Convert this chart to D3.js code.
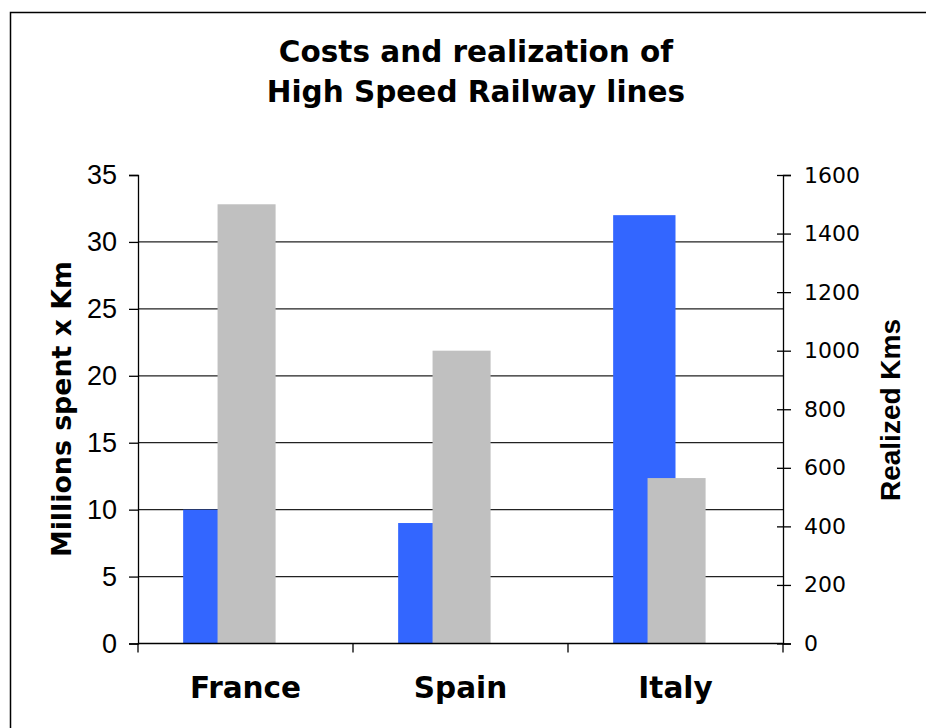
<!DOCTYPE html>
<html>
<head>
<meta charset="utf-8">
<script src="https://cdn.jsdelivr.net/npm/d3@7"></script>
<style>
  body { margin: 0; background: #fff; }
  text { font-family: "DejaVu Sans", Verdana, sans-serif; }
</style>
</head>
<body>
<div id="chart"></div>
<script>
var width = 926;
var height = 728;

// data
var countries = ["France", "Spain", "Italy"];
var millionsPerKm = [10, 9, 32];
var realizedKms = [1500, 1000, 565];
var leftTicks = [0, 5, 10, 15, 20, 25, 30, 35];
var rightTicks = [0, 200, 400, 600, 800, 1000, 1200, 1400, 1600];

var plot = { left: 138, right: 783, top: 175, bottom: 643.5 };

var svg = d3.select("#chart")
  .append("svg")
  .attr("width", width)
  .attr("height", height);

// outer frame
svg.append("rect")
  .attr("x", 10.5).attr("y", 12.5)
  .attr("width", 930).attr("height", 730)
  .attr("fill", "#fff")
  .attr("stroke", "#000")
  .attr("stroke-width", 1.5);

var x = d3.scaleBand()
  .domain(countries)
  .range([plot.left, plot.right]);

var yLeft = d3.scaleLinear()
  .domain([0, 35])
  .range([plot.bottom, plot.top]);

var yRight = d3.scaleLinear()
  .domain([0, 1600])
  .range([plot.bottom, plot.top]);

// gridlines (none at top)
svg.append("g")
  .selectAll("line")
  .data(leftTicks.filter(function(d) { return d > 0 && d < 35; }))
  .enter()
  .append("line")
  .attr("x1", plot.left).attr("x2", plot.right)
  .attr("y1", function(d) { return yLeft(d); })
  .attr("y2", function(d) { return yLeft(d); })
  .attr("stroke", "#222")
  .attr("stroke-width", 1.2);

var bw = x.bandwidth();

// blue bars: from band start + 21% up to band centre
svg.append("g")
  .selectAll("rect")
  .data(countries)
  .enter()
  .append("rect")
  .attr("x", function(d) { return x(d) + bw * 0.21; })
  .attr("width", bw * 0.29)
  .attr("y", function(d, i) { return yLeft(millionsPerKm[i]); })
  .attr("height", function(d, i) { return plot.bottom - yLeft(millionsPerKm[i]); })
  .attr("fill", "#3366ff");

// grey bars on the secondary axis, drawn over the blue ones
svg.append("g")
  .selectAll("rect")
  .data(countries)
  .enter()
  .append("rect")
  .attr("x", function(d) { return x(d) + bw * 0.37; })
  .attr("width", bw * 0.27)
  .attr("y", function(d, i) { return yRight(realizedKms[i]); })
  .attr("height", function(d, i) { return plot.bottom - yRight(realizedKms[i]); })
  .attr("fill", "#c0c0c0");

// left axis
var leftAxis = svg.append("g")
  .attr("transform", "translate(" + plot.left + ",0)")
  .call(d3.axisLeft(yLeft).tickValues(leftTicks).tickSize(9).tickPadding(12));
leftAxis.select(".domain").attr("stroke", "#000").attr("stroke-width", 1.3);
leftAxis.selectAll(".tick line").attr("stroke", "#000").attr("stroke-width", 1.3);
leftAxis.selectAll("text")
  .style("font-size", "27px")
  .style("font-family", "Liberation Sans, Arial, sans-serif")
  .attr("fill", "#000");

// right axis, ticks crossing the line
var rightAxis = svg.append("g")
  .attr("transform", "translate(" + plot.right + ",0)")
  .call(d3.axisRight(yRight).tickValues(rightTicks).tickFormat(d3.format("d")).tickSize(8).tickPadding(13));
rightAxis.select(".domain").attr("stroke", "#000").attr("stroke-width", 1.3);
rightAxis.selectAll(".tick line")
  .attr("x1", -6)
  .attr("stroke", "#000").attr("stroke-width", 1.3);
rightAxis.selectAll("text")
  .style("font-size", "22px")
  .style("font-family", "DejaVu Sans, Verdana, sans-serif")
  .attr("fill", "#000");

// bottom axis with ticks between categories
var bottomAxis = svg.append("g")
  .attr("transform", "translate(0," + plot.bottom + ")");
bottomAxis.append("line")
  .attr("x1", plot.left).attr("x2", plot.right)
  .attr("stroke", "#000").attr("stroke-width", 1.5);
bottomAxis.selectAll(".sep")
  .data(countries.concat(["end"]))
  .enter()
  .append("line")
  .attr("class", "sep")
  .attr("x1", function(d, i) { return plot.left + i * bw; })
  .attr("x2", function(d, i) { return plot.left + i * bw; })
  .attr("y1", 0).attr("y2", 9)
  .attr("stroke", "#000").attr("stroke-width", 1.3);
bottomAxis.selectAll(".cat")
  .data(countries)
  .enter()
  .append("text")
  .attr("class", "cat")
  .attr("x", function(d) { return x(d) + bw / 2; })
  .attr("y", 54)
  .attr("text-anchor", "middle")
  .style("font-size", "29.5px")
  .style("font-weight", "bold")
  .text(function(d) { return d; });

// title
var title = svg.append("text")
  .attr("x", 476)
  .attr("text-anchor", "middle")
  .style("font-size", "29.5px")
  .style("font-weight", "bold");
title.append("tspan").attr("x", 476).attr("y", 62).text("Costs and realization of");
title.append("tspan").attr("x", 476).attr("y", 102).text("High Speed Railway lines");

// axis titles
svg.append("text")
  .attr("transform", "translate(71,409) rotate(-90)")
  .attr("text-anchor", "middle")
  .style("font-size", "26.8px")
  .style("font-weight", "bold")
  .text("Millions spent x Km");

svg.append("text")
  .attr("transform", "translate(900,410) rotate(-90)")
  .attr("text-anchor", "middle")
  .style("font-size", "28px")
  .style("font-family", "Liberation Sans, Arial, sans-serif")
  .style("font-weight", "bold")
  .text("Realized Kms");
</script>
</body>
</html>
